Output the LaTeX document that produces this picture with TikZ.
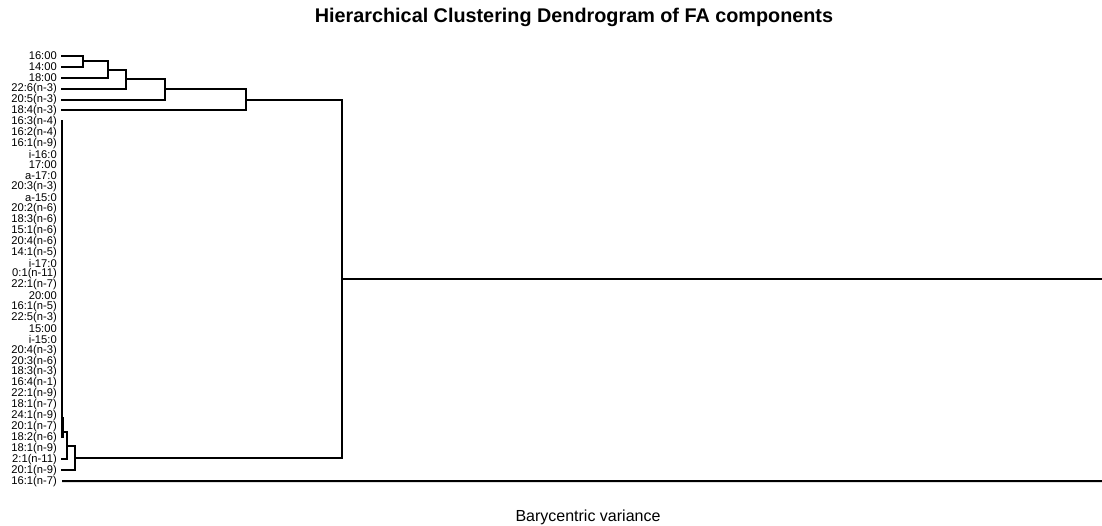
\documentclass[tikz,border=0pt]{standalone}
\usepackage{fontspec}
\setmainfont{Liberation Sans}
\begin{document}
\begin{tikzpicture}[x=1pt,y=-1pt,
  link/.style={line width=2pt,line cap=rect,line join=miter,black},
  leaflab/.style={anchor=east,inner sep=0pt,font=\fontsize{11.2}{11}\selectfont},
  titlelab/.style={font=\fontsize{19.8}{22}\bfseries\selectfont,inner sep=0pt},
  axislab/.style={font=\fontsize{16}{18}\selectfont,inner sep=0pt}]
\useasboundingbox (0,0) rectangle (1102,526);
\node[titlelab] (title) at (574,17) {Hierarchical Clustering Dendrogram of FA components};
\node[axislab] (xlab) at (588,517) {Barycentric variance};
\foreach \t [count=\i] in {16:00,14:00,18:00,22:6(n-3),20:5(n-3),18:4(n-3),16:3(n-4),16:2(n-4),16:1(n-9),i-16:0,17:00,a-17:0,20:3(n-3),a-15:0,20:2(n-6),18:3(n-6),15:1(n-6),20:4(n-6),14:1(n-5),i-17:0,0:1(n-11),22:1(n-7),20:00,16:1(n-5),22:5(n-3),15:00,i-15:0,20:4(n-3),20:3(n-6),18:3(n-3),16:4(n-1),22:1(n-9),18:1(n-7),24:1(n-9),20:1(n-7),18:2(n-6),18:1(n-9),2:1(n-11),20:1(n-9),16:1(n-7)}{
  \pgfmathsetmacro\yy{56+(\i-1)*10.9}
  \node[leaflab] (lab\i) at (57,\yy) {\t};
  \coordinate (l\i) at (62,\yy);
}
% top cluster
\coordinate (mA) at (83,61.45);
\coordinate (mB) at (108,69.6);
\coordinate (mC) at (126,79.2);
\coordinate (mD) at (165,89.4);
\coordinate (mE) at (246,99.95);
\draw[link] (l1) -| (mA |- l2) -- (l2);
\draw[link] (mA) -| (mB |- l3) -- (l3);
\draw[link] (mB) -| (mC |- l4) -- (l4);
\draw[link] (mC) -| (mD |- l5) -- (l5);
\draw[link] (mD) -| (mE |- l6) -- (l6);
% bottom cluster
\coordinate (bS) at (63.5,432);
\draw[link] (l7) -- (62,437);
\draw[link,line width=1.2pt] (63.5,418) -- (63.5,437);
\coordinate (mF) at (67,445.6);
\coordinate (mG) at (75,457.9);
\draw[link] (bS) -| (mF |- l38) -- (l38);
\draw[link] (mF) -| (mG |- l39) -- (l39);
% main join
\coordinate (mH) at (342,278.9);
\coordinate (rootA) at (1102,278.9);
\draw[link] (mE) -| (mH |- mG) -- (mG);
\draw[link,line cap=butt] (mH) -- (rootA);
\coordinate (rootB) at (1102,481.1);
\draw[link,line cap=butt] (l40) -- (rootB);
\end{tikzpicture}
\end{document}
